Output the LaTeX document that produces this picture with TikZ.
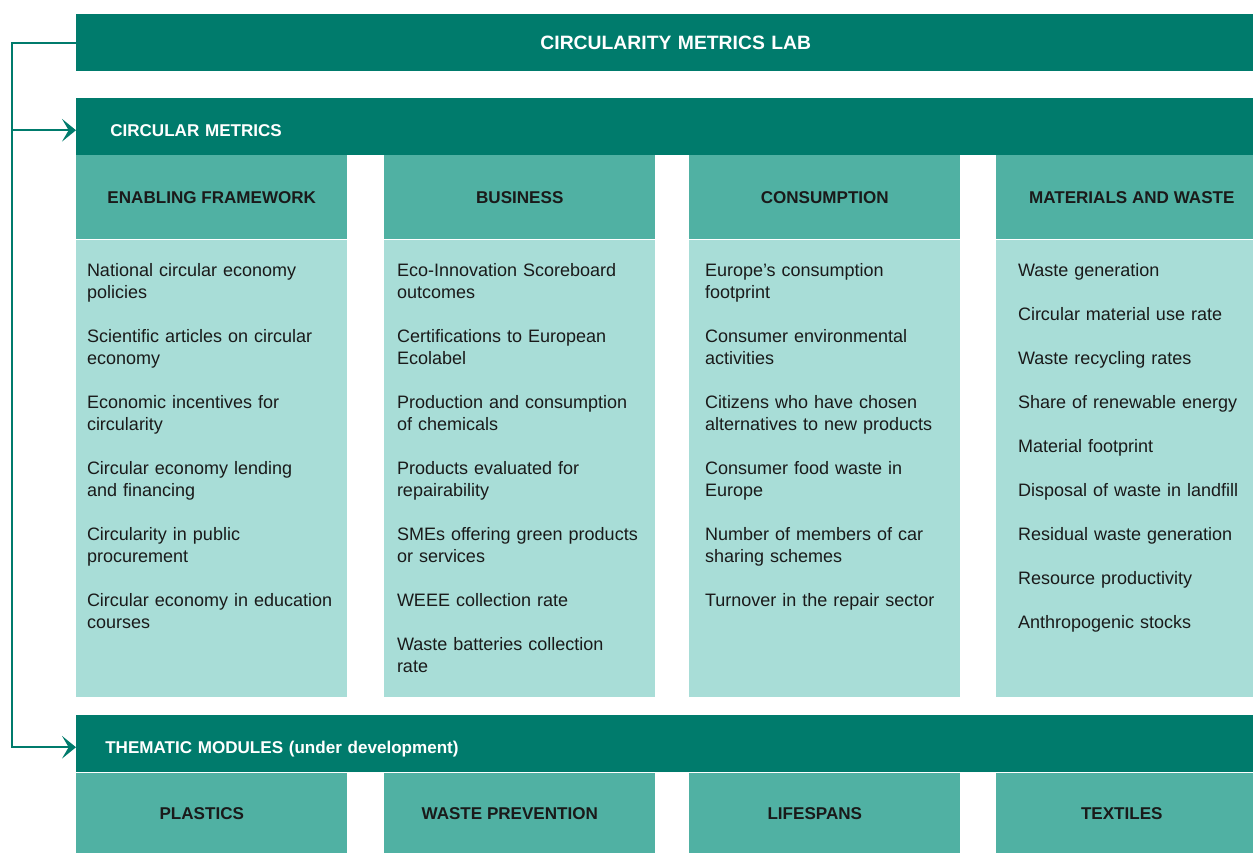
\documentclass[tikz,border=0pt]{standalone}
\usepackage{fontspec}
\setmainfont{Liberation Sans}
\usetikzlibrary{positioning,arrows.meta}

\definecolor{labdark}{HTML}{007B6C}
\definecolor{labmid}{HTML}{50B1A3}
\definecolor{lablight}{HTML}{A8DDD7}
\definecolor{labink}{HTML}{1A1A1A}

\tikzset{
  bar/.style={fill=labdark, text=white, font=\bfseries\fontsize{12.8}{15}\selectfont,
    anchor=north west, minimum height=42.75pt, text width=900pt, align=left,
    text height=14.4pt, text depth=0pt},
  colhead/.style={fill=labmid, text=labink, font=\bfseries\fontsize{12.8}{15}\selectfont,
    anchor=north west, minimum width=203.25pt, minimum height=63pt, inner sep=0pt},
  colbody/.style={fill=lablight, anchor=north west, minimum width=203.25pt,
    minimum height=342.75pt, inner sep=0pt},
  module/.style={fill=labmid, text=labink, font=\bfseries\fontsize{12.8}{15}\selectfont,
    anchor=north west, minimum width=203.25pt, minimum height=60pt, inner sep=0pt,
    execute at end node={\hspace*{15pt}}},
  item/.style={anchor=north west, align=left, text=labink, inner sep=0pt, outer sep=0pt,
    text width=196pt, font=\fontsize{13.5}{16.5}\selectfont,
    execute at begin node=\strut, execute at end node=\strut},
  link/.style={draw=labdark, line width=1.5pt},
  >={Stealth[length=10.5pt, width=17pt, inset=5pt]},
}

\begin{document}
\begin{tikzpicture}[x=0.75pt, y=-0.75pt]
  \clip (0,0) rectangle (1253,853);

  % bars
  \node[bar, text width=899.25pt, inner xsep=0pt, align=center, text height=10.4pt,
    font=\bfseries\fontsize{14.5}{17}\selectfont] (lab) at (76,14) {CIRCULARITY METRICS LAB};
  \node[bar, inner xsep=25.5pt] (metrics) at (76,98) {CIRCULAR METRICS};
  \node[bar, inner xsep=21.75pt] (thematic) at (76,715) {THEMATIC MODULES (under development)};

  % columns
  \node[colhead] (efhead) at (76,155) {ENABLING FRAMEWORK};
  \node[colhead] (buhead) at (384,155) {BUSINESS};
  \node[colhead] (cohead) at (689,155) {CONSUMPTION};
  \node[colhead] (mwhead) at (996,155) {MATERIALS AND WASTE};
  \foreach \c in {ef,bu,co,mw}
    \node[below=0pt of \c head.south west, colbody] (\c body) {};

  % metrics in each column
  \node[item] (ef1) at (87,261) {National circular economy\\policies};
  \foreach \txt [count=\k from 2, remember=\k as \prev (initially 1)] in
    {{Scientific articles on circular\\economy},
     {Economic incentives for\\circularity},
     {Circular economy lending\\and financing},
     {Circularity in public\\procurement},
     {Circular economy in education\\courses}}
    \node[below=16.5pt of ef\prev.south west, item] (ef\k) {\txt};

  \node[item] (bu1) at (397,261) {Eco-Innovation Scoreboard\\outcomes};
  \foreach \txt [count=\k from 2, remember=\k as \prev (initially 1)] in
    {{Certifications to European\\Ecolabel},
     {Production and consumption\\of chemicals},
     {Products evaluated for\\repairability},
     {SMEs offering green products\\or services},
     {WEEE collection rate},
     {Waste batteries collection\\rate}}
    \node[below=16.5pt of bu\prev.south west, item] (bu\k) {\txt};

  \node[item] (co1) at (705,261) {Europe's consumption\\footprint};
  \foreach \txt [count=\k from 2, remember=\k as \prev (initially 1)] in
    {{Consumer environmental\\activities},
     {Citizens who have chosen\\alternatives to new products},
     {Consumer food waste in\\Europe},
     {Number of members of car\\sharing schemes},
     {Turnover in the repair sector}}
    \node[below=16.5pt of co\prev.south west, item] (co\k) {\txt};

  \node[item] (mw1) at (1018,261) {Waste generation};
  \foreach \txt [count=\k from 2, remember=\k as \prev (initially 1)] in
    {{Circular material use rate},
     {Waste recycling rates},
     {Share of renewable energy},
     {Material footprint},
     {Disposal of waste in landfill},
     {Residual waste generation},
     {Resource productivity},
     {Anthropogenic stocks}}
    \node[below=16.5pt of mw\prev.south west, item] (mw\k) {\txt};

  % thematic modules
  \node[module] (plastics) at (76,773) {PLASTICS};
  \node[module] (prevention) at (384,773) {WASTE PREVENTION};
  \node[module] (lifespans) at (689,773) {LIFESPANS};
  \node[module] (textiles) at (996,773) {TEXTILES};

  % rail on the left
  \coordinate (rail) at (12,0);
  \draw[link, ->] (lab.west) -- (lab.west -| rail) |- ([yshift=-2.6pt]thematic.west);
  \draw[link, ->] ([yshift=-2.6pt]metrics.west -| rail) -- ([yshift=-2.6pt]metrics.west);
\end{tikzpicture}
\end{document}
